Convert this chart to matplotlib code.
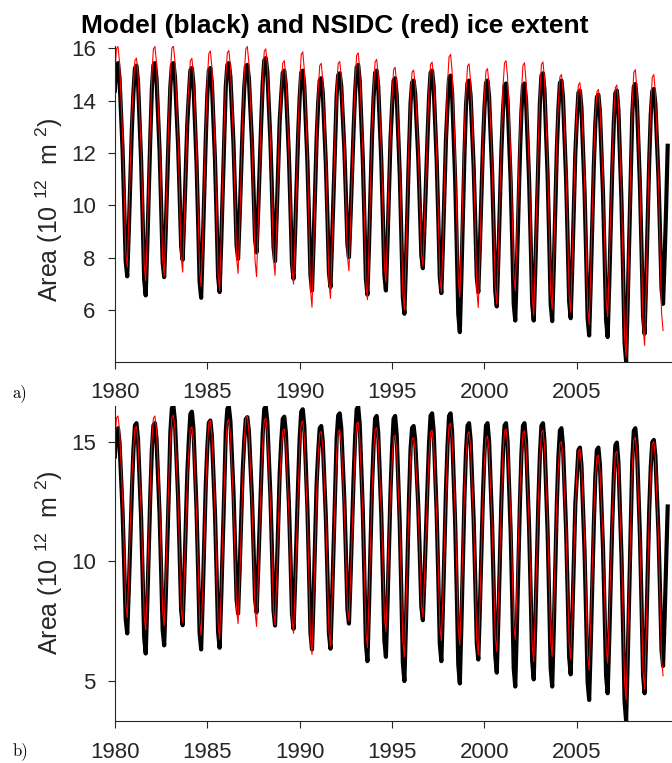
import numpy as np
import matplotlib.pyplot as plt

plt.rcParams['font.family'] = 'Liberation Sans'
plt.rcParams['mathtext.fontset'] = 'custom'
plt.rcParams['mathtext.rm'] = 'Liberation Sans'
plt.rcParams['mathtext.it'] = 'Liberation Sans'

first_year = 1980
xticks = [1980, 1985, 1990, 1995, 2000, 2005]
yticks_a = [6, 8, 10, 12, 14, 16]
yticks_b = [5, 10, 15]

# monthly ice extent (10^12 m^2), one row per year, Jan..Dec
nsidc = [
    [15.06, 15.99, 16.07, 15.48, 14.05, 12.61, 10.51, 8.23, 7.64, 9.41, 11.43, 13.46],
    [14.61, 15.54, 15.63, 15.03, 13.59, 12.14, 10.01, 7.72, 7.12, 8.91, 10.95, 12.99],
    [15.02, 15.98, 16.07, 15.46, 13.97, 12.47, 10.28, 7.91, 7.30, 9.14, 11.25, 13.35],
    [15.06, 16.01, 16.10, 15.49, 14.02, 12.55, 10.39, 8.06, 7.45, 9.27, 11.34, 13.42],
    [14.57, 15.53, 15.62, 15.01, 13.53, 12.04, 9.86, 7.51, 6.90, 8.73, 10.82, 12.92],
    [14.80, 15.81, 15.90, 15.26, 13.70, 12.15, 9.86, 7.39, 6.75, 8.67, 10.87, 13.06],
    [14.90, 15.83, 15.92, 15.32, 13.88, 12.43, 10.30, 8.00, 7.40, 9.19, 11.23, 13.28],
    [15.02, 15.98, 16.07, 15.45, 13.96, 12.47, 10.27, 7.90, 7.28, 9.13, 11.24, 13.35],
    [14.94, 15.89, 15.98, 15.37, 13.90, 12.43, 10.27, 7.94, 7.33, 9.15, 11.22, 13.30],
    [14.51, 15.44, 15.53, 14.93, 13.48, 12.03, 9.89, 7.59, 6.99, 8.78, 10.83, 12.88],
    [14.70, 15.77, 15.87, 15.19, 13.53, 11.87, 9.43, 6.79, 6.11, 8.16, 10.50, 12.84],
    [14.35, 15.34, 15.43, 14.80, 13.27, 11.75, 9.50, 7.08, 6.45, 8.34, 10.49, 12.65],
    [14.54, 15.42, 15.50, 14.94, 13.58, 12.22, 10.22, 8.06, 7.50, 9.18, 11.10, 13.02],
    [14.70, 15.74, 15.83, 15.17, 13.57, 11.96, 9.61, 7.06, 6.40, 8.38, 10.64, 12.91],
    [14.56, 15.49, 15.58, 14.98, 13.54, 12.09, 9.96, 7.67, 7.07, 8.86, 10.90, 12.94],
    [14.17, 15.19, 15.28, 14.63, 13.05, 11.48, 9.16, 6.65, 6.00, 7.95, 10.18, 12.40],
    [14.27, 15.10, 15.17, 14.65, 13.37, 12.10, 10.23, 8.20, 7.68, 9.25, 11.05, 12.85],
    [14.42, 15.39, 15.48, 14.86, 13.37, 11.87, 9.67, 7.30, 6.68, 8.53, 10.64, 12.75],
    [14.66, 15.68, 15.77, 15.12, 13.55, 11.97, 9.65, 7.15, 6.50, 8.45, 10.67, 12.90],
    [14.29, 15.32, 15.41, 14.76, 13.18, 11.59, 9.27, 6.75, 6.10, 8.06, 10.29, 12.52],
    [14.15, 15.14, 15.23, 14.60, 13.07, 11.54, 9.28, 6.85, 6.22, 8.11, 10.27, 12.44],
    [14.48, 15.44, 15.53, 14.91, 13.42, 11.93, 9.73, 7.36, 6.74, 8.59, 10.70, 12.81],
    [14.29, 15.35, 15.45, 14.77, 13.13, 11.49, 9.08, 6.48, 5.80, 7.83, 10.14, 12.46],
    [14.34, 15.39, 15.48, 14.82, 13.21, 11.60, 9.24, 6.68, 6.02, 8.01, 10.28, 12.55],
    [13.91, 14.91, 15.00, 14.36, 12.82, 11.28, 9.01, 6.56, 5.92, 7.83, 10.01, 12.19],
    [13.58, 14.60, 14.69, 14.04, 12.47, 10.90, 8.59, 6.10, 5.45, 7.39, 9.61, 11.83],
    [13.39, 14.34, 14.43, 13.82, 12.35, 10.87, 8.70, 6.36, 5.75, 7.57, 9.66, 11.74],
    [13.35, 14.50, 14.60, 13.87, 12.10, 10.34, 7.74, 4.93, 4.20, 6.38, 8.88, 11.38],
    [13.93, 15.08, 15.19, 14.45, 12.66, 10.87, 8.23, 5.39, 4.65, 6.86, 9.39, 11.92],
    [13.83, 14.90, 15.00, 14.32, 12.65, 10.99, 8.55, 5.90, 5.22],
]

model_a = [
    [14.39, 15.36, 15.44, 14.87, 13.48, 12.10, 10.06, 7.86, 7.29, 9.00, 10.96, 12.91],
    [14.29, 15.25, 15.34, 14.73, 13.23, 11.74, 9.55, 7.17, 6.56, 8.40, 10.51, 12.62],
    [14.46, 15.36, 15.44, 14.87, 13.48, 12.09, 10.04, 7.83, 7.26, 8.98, 10.94, 12.90],
    [14.54, 15.36, 15.44, 14.91, 13.64, 12.36, 10.48, 8.45, 7.92, 9.50, 11.30, 13.11],
    [14.20, 15.16, 15.25, 14.64, 13.14, 11.65, 9.46, 7.08, 6.47, 8.31, 10.42, 12.53],
    [14.22, 15.16, 15.25, 14.65, 13.20, 11.74, 9.60, 7.29, 6.69, 8.49, 10.54, 12.60],
    [14.54, 15.37, 15.44, 14.92, 13.64, 12.37, 10.50, 8.48, 7.96, 9.53, 11.33, 13.12],
    [14.51, 15.30, 15.37, 14.87, 13.65, 12.43, 10.64, 8.71, 8.21, 9.71, 11.43, 13.15],
    [14.70, 15.55, 15.63, 15.09, 13.77, 12.45, 10.51, 8.41, 7.87, 9.50, 11.36, 13.22],
    [14.20, 15.07, 15.15, 14.59, 13.24, 11.89, 9.90, 7.76, 7.20, 8.87, 10.78, 12.69],
    [14.14, 15.07, 15.15, 14.56, 13.13, 11.71, 9.61, 7.34, 6.75, 8.51, 10.53, 12.55],
    [13.90, 14.78, 14.86, 14.30, 12.94, 11.59, 9.59, 7.44, 6.88, 8.56, 10.47, 12.39],
    [14.21, 14.98, 15.05, 14.56, 13.36, 12.17, 10.41, 8.51, 8.02, 9.50, 11.18, 12.87],
    [14.32, 15.28, 15.37, 14.76, 13.26, 11.77, 9.58, 7.20, 6.59, 8.43, 10.54, 12.65],
    [14.14, 15.07, 15.15, 14.56, 13.13, 11.71, 9.61, 7.34, 6.75, 8.51, 10.53, 12.55],
    [13.78, 14.77, 14.86, 14.23, 12.70, 11.17, 8.92, 6.49, 5.86, 7.75, 9.91, 12.07],
    [13.91, 14.70, 14.77, 14.27, 13.05, 11.83, 10.04, 8.10, 7.60, 9.11, 10.83, 12.55],
    [14.13, 15.07, 15.15, 14.56, 13.11, 11.67, 9.54, 7.25, 6.65, 8.44, 10.48, 12.52],
    [13.78, 14.86, 14.96, 14.27, 12.61, 10.94, 8.49, 5.85, 5.16, 7.22, 9.57, 11.92],
    [13.80, 14.69, 14.77, 14.20, 12.83, 11.46, 9.44, 7.26, 6.69, 8.39, 10.33, 12.27],
    [13.73, 14.68, 14.77, 14.17, 12.70, 11.23, 9.07, 6.74, 6.14, 7.95, 10.02, 12.09],
    [13.57, 14.57, 14.66, 14.03, 12.49, 10.95, 8.68, 6.23, 5.60, 7.50, 9.68, 11.85],
    [13.57, 14.57, 14.66, 14.03, 12.49, 10.95, 8.68, 6.23, 5.60, 7.50, 9.68, 11.85],
    [13.91, 14.96, 15.05, 14.39, 12.78, 11.17, 8.80, 6.24, 5.58, 7.57, 9.84, 12.11],
    [13.68, 14.68, 14.77, 14.13, 12.59, 11.05, 8.78, 6.33, 5.69, 7.60, 9.78, 11.96],
    [13.27, 14.30, 14.39, 13.73, 12.14, 10.55, 8.21, 5.69, 5.03, 7.00, 9.24, 11.49],
    [13.12, 14.14, 14.23, 13.58, 12.01, 10.43, 8.12, 5.62, 4.97, 6.91, 9.14, 11.36],
    [13.15, 14.29, 14.39, 13.66, 11.90, 10.14, 7.55, 4.76, 4.03, 6.21, 8.69, 11.18],
    [13.50, 14.54, 14.64, 13.97, 12.35, 10.73, 8.34, 5.77, 5.10, 7.10, 9.39, 11.68],
    [13.46, 14.37, 14.45, 13.88, 12.48, 11.08, 9.03, 6.81, 6.24, 7.96, 9.93, 12.28],
]

model_b = [
    [14.38, 15.47, 15.56, 14.96, 13.50, 12.05, 9.90, 7.59, 6.99, 8.79, 10.85, 12.90],
    [14.62, 15.67, 15.77, 15.10, 13.46, 11.83, 9.42, 6.82, 6.15, 8.17, 10.48, 12.79],
    [14.66, 15.68, 15.77, 15.12, 13.54, 11.97, 9.65, 7.14, 6.49, 8.44, 10.67, 12.89],
    [15.39, 16.40, 16.49, 15.85, 14.29, 12.73, 10.44, 7.97, 7.33, 9.25, 11.45, 13.65],
    [15.06, 16.15, 16.25, 15.55, 13.87, 12.18, 9.70, 7.02, 6.32, 8.41, 10.79, 13.17],
    [14.74, 15.79, 15.88, 15.22, 13.60, 11.99, 9.62, 7.05, 6.39, 8.38, 10.66, 12.94],
    [15.42, 16.37, 16.46, 15.86, 14.39, 12.92, 10.76, 8.42, 7.82, 9.63, 11.71, 13.78],
    [15.04, 15.94, 16.02, 15.45, 14.06, 12.68, 10.64, 8.44, 7.87, 9.58, 11.54, 13.49],
    [15.36, 16.37, 16.46, 15.82, 14.27, 12.71, 10.43, 7.96, 7.32, 9.24, 11.43, 13.63],
    [14.98, 15.95, 16.04, 15.42, 13.91, 12.41, 10.19, 7.80, 7.18, 9.04, 11.17, 13.29],
    [15.15, 16.25, 16.35, 15.65, 13.94, 12.24, 9.73, 7.02, 6.32, 8.43, 10.83, 13.24],
    [14.53, 15.56, 15.65, 15.00, 13.42, 11.84, 9.51, 7.00, 6.35, 8.30, 10.54, 12.77],
    [15.13, 16.09, 16.18, 15.57, 14.07, 12.58, 10.39, 8.01, 7.40, 9.24, 11.35, 13.46],
    [15.18, 16.35, 16.46, 15.72, 13.91, 12.10, 9.44, 6.57, 5.83, 8.06, 10.61, 13.16],
    [14.86, 15.97, 16.07, 15.37, 13.66, 11.95, 9.43, 6.71, 6.01, 8.12, 10.54, 12.95],
    [14.74, 15.96, 16.07, 15.30, 13.41, 11.53, 8.76, 5.77, 5.00, 7.32, 9.98, 12.64],
    [14.68, 15.57, 15.65, 15.08, 13.70, 12.32, 10.30, 8.11, 7.54, 9.24, 11.19, 13.14],
    [14.94, 16.08, 16.18, 15.46, 13.70, 11.94, 9.35, 6.55, 5.83, 8.00, 10.49, 12.97],
    [14.83, 16.07, 16.18, 15.39, 13.47, 11.56, 8.74, 5.69, 4.90, 7.27, 9.98, 12.68],
    [14.59, 15.67, 15.77, 15.08, 13.40, 11.72, 9.26, 6.59, 5.90, 7.97, 10.34, 12.71],
    [14.52, 15.67, 15.77, 15.04, 13.27, 11.50, 8.89, 6.08, 5.35, 7.54, 10.04, 12.54],
    [14.45, 15.66, 15.77, 15.00, 13.13, 11.26, 8.51, 5.54, 4.77, 7.08, 9.72, 12.36],
    [14.49, 15.66, 15.77, 15.02, 13.20, 11.38, 8.71, 5.82, 5.07, 7.32, 9.89, 12.45],
    [14.45, 15.66, 15.77, 15.00, 13.13, 11.26, 8.51, 5.54, 4.77, 7.08, 9.72, 12.36],
    [14.33, 15.46, 15.56, 14.84, 13.09, 11.35, 8.78, 6.00, 5.28, 7.44, 9.91, 12.37],
    [13.49, 14.64, 14.75, 14.01, 12.22, 10.43, 7.79, 4.95, 4.21, 6.42, 8.95, 11.48],
    [13.52, 14.65, 14.75, 14.03, 12.29, 10.54, 7.98, 5.21, 4.49, 6.64, 9.11, 11.57],
    [13.56, 14.84, 14.96, 14.15, 12.17, 10.19, 7.28, 4.14, 3.33, 5.77, 8.56, 11.35],
    [14.23, 15.45, 15.56, 14.79, 12.90, 11.02, 8.25, 5.26, 4.49, 6.81, 9.47, 12.13],
    [13.94, 14.98, 15.07, 14.41, 12.80, 11.20, 8.84, 6.29, 5.63, 7.61, 9.88, 12.29],
]


def monthly(rows):
    vals = np.concatenate([np.asarray(r, dtype=float) for r in rows])
    t = first_year + np.arange(len(vals)) / 12.0
    return t, vals


t_obs, v_obs = monthly(nsidc)
t_a, v_a = monthly(model_a)
t_b, v_b = monthly(model_b)

grey = '#262626'
fig = plt.figure(figsize=(6.72, 7.63), dpi=100)
ax_a = fig.add_axes([0.171, 0.526, 0.829, 0.414])
ax_b = fig.add_axes([0.171, 0.055, 0.829, 0.413])

for ax, t_m, v_m, yt in [(ax_a, t_a, v_a, yticks_a), (ax_b, t_b, v_b, yticks_b)]:
    ax.plot(t_m, v_m, color='black', lw=3.0, solid_joinstyle='round')
    ax.plot(t_obs, v_obs, color='red', lw=0.8)
    lo = min(v_m.min(), v_obs.min())
    hi = max(v_m.max(), v_obs.max())
    ax.set_ylim(lo, hi)
    ax.set_xlim(1980, 2010.15)
    ax.set_xticks(xticks)
    ax.set_yticks(yt)
    ax.spines['top'].set_visible(False)
    ax.spines['right'].set_visible(False)
    for s in ['left', 'bottom']:
        ax.spines[s].set_color(grey)
        ax.spines[s].set_linewidth(0.8)
    ax.tick_params(direction='out', length=4.8, width=0.8, colors=grey,
                   labelsize=16)
    ax.tick_params(axis='x', pad=10)
    ax.tick_params(axis='y', pad=9)

ylab = r'Area (10 $^{12}$  m $^{2}$)'
fig.text(0.073, 0.725, ylab, rotation=90, ha='center', va='center',
         fontsize=18, color=grey)
fig.text(0.073, 0.262, ylab, rotation=90, ha='center', va='center',
         fontsize=18, color=grey)

fig.text(0.498, 0.957, 'Model (black) and NSIDC (red) ice extent',
         ha='center', va='baseline', fontsize=19, fontweight='bold')

fig.text(0.018, 0.48, 'a)', family='cmr10', fontsize=12, va='baseline')
fig.text(0.018, 0.01, 'b)', family='cmr10', fontsize=12, va='baseline')

fig.savefig('out.png', dpi=100)
